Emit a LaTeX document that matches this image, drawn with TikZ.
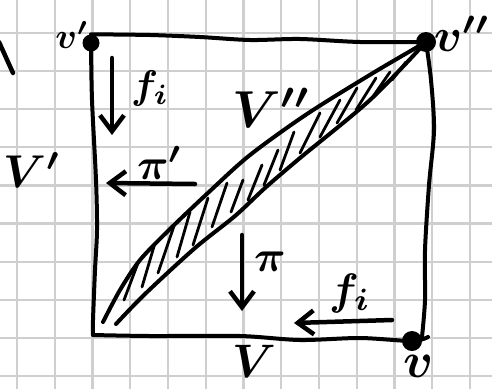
\documentclass[tikz,border=0pt]{standalone}
\usetikzlibrary{arrows.meta}
\definecolor{gridc}{HTML}{CFCFCF}
\begin{document}
\begin{tikzpicture}[x=1pt,y=-1pt,
  ink/.style={line width=4pt,line cap=round,line join=round},
  hatch/.style={line width=2.8pt,line cap=round},
  arr/.style={line width=4.5pt,line cap=round,line join=round,-{Straight Barb[length=16pt,width=24pt]}},
  dot/.style={circle,fill=black,inner sep=0pt},
  lbl/.style={inner sep=0pt,font=\boldmath}]
\fill[white] (0,0) rectangle (492,389);
\useasboundingbox (0,0) rectangle (492,389);
\foreach \k in {0,...,12} \draw[gridc,line width=2.2pt] ({17+37.75*\k},0) -- ({17+37.75*\k},389);
\foreach \k in {0,...,9} \draw[gridc,line width=2.2pt] (0,{33+38.1*\k}) -- (492,{33+38.1*\k});
% vertices
\node[dot,minimum size=17pt] (vp) at (91,43) {};
\node[dot,minimum size=20pt] (vpp) at (426,42) {};
\node[dot,minimum size=20pt] (v) at (412,341) {};
\coordinate (bl) at (93,335);
% square
\draw[ink] plot[smooth] coordinates {(vp.north) (150,35) (200,37) (250,40) (300,39) (360,42) (vpp.center)};
\draw[ink] plot[smooth] coordinates {(vp.center) (92,100) (96,180) (97,230) (95,270) (93,320) (bl)};
\draw[ink] plot[smooth] coordinates {(bl) (150,336) (240,336) (300,340) (360,338) (v.center) (428,337)};
\draw[ink] plot[smooth] coordinates {(vpp.center) (431,80) (434,130) (429,185) (425,250) (425,300) (422,337)};
% fragment of a letter cut by the left edge
\coordinate (frA1) at (-1,42); \coordinate (frA2) at (13,73);
\draw[line width=4.5pt,line cap=round] (frA1) -- (frA2);
% lens
\coordinate (ls) at (103,322);
\coordinate (lt) at (116,324);
\draw[ink] plot[smooth] coordinates {(ls) (120,290) (140,260) (170,229) (210,191) (250,155) (307,114) (373,73) (vpp.center)};
\draw[ink] plot[smooth] coordinates {(lt) (145,294) (195,248) (235,216) (265,188) (300,158) (370,100) (vpp.center)};
\foreach \a/\b/\c/\d in {124/300/138/263, 142/287/155/243, 158/273/174/226, 177/257/190/212,
  193/245/208/198, 212/227/227/183, 231/212/243/180, 248/200/262/165, 264/185/278/150,
  280/170/294/132, 300/153/320/113, 320/137/340/100, 337/123/357/88, 356/110/376/78,
  372/98/390/72, 392/80/406/62}
  \draw[hatch] (\a,\b) -- (\c,\d);
% arrows
\coordinate (a1s) at (112,58);  \coordinate (a1e) at (112,135);
\coordinate (a2s) at (195,184); \coordinate (a2e) at (106,183);
\coordinate (a3s) at (242,235); \coordinate (a3e) at (242,311);
\coordinate (a4s) at (392,320); \coordinate (a4e) at (294,323);
\draw[arr] (a1s) -- (a1e);
\draw[arr] (a2s) -- (a2e);
\draw[arr] (a3s) -- (a3e);
\draw[arr] (a4s) -- (a4e);
% labels
\node[lbl,scale=4] (fi1) at (150,88) {$f_i$};
\node[lbl,scale=4.4] (pip) at (160,163) {$\pi'$};
\node[lbl,scale=4.4] (pi) at (270,262) {$\pi$};
\node[lbl,scale=4.4] (fi2) at (350,293) {$f_i$};
\node[lbl,scale=5.2] (Vpp) at (272,108) {$V''$};
\node[lbl,scale=4.6] (Vp) at (32,170) {$V'$};
\node[lbl,scale=4.7] (V) at (254,361) {$V$};
\node[lbl,scale=3.6] (vplab) at (72,35) {$v'$};
\node[lbl,scale=4.7] (vpplab) at (462,34) {$v''$};
\node[lbl,scale=5] (vlab) at (419,366) {$v$};
\end{tikzpicture}
\end{document}
